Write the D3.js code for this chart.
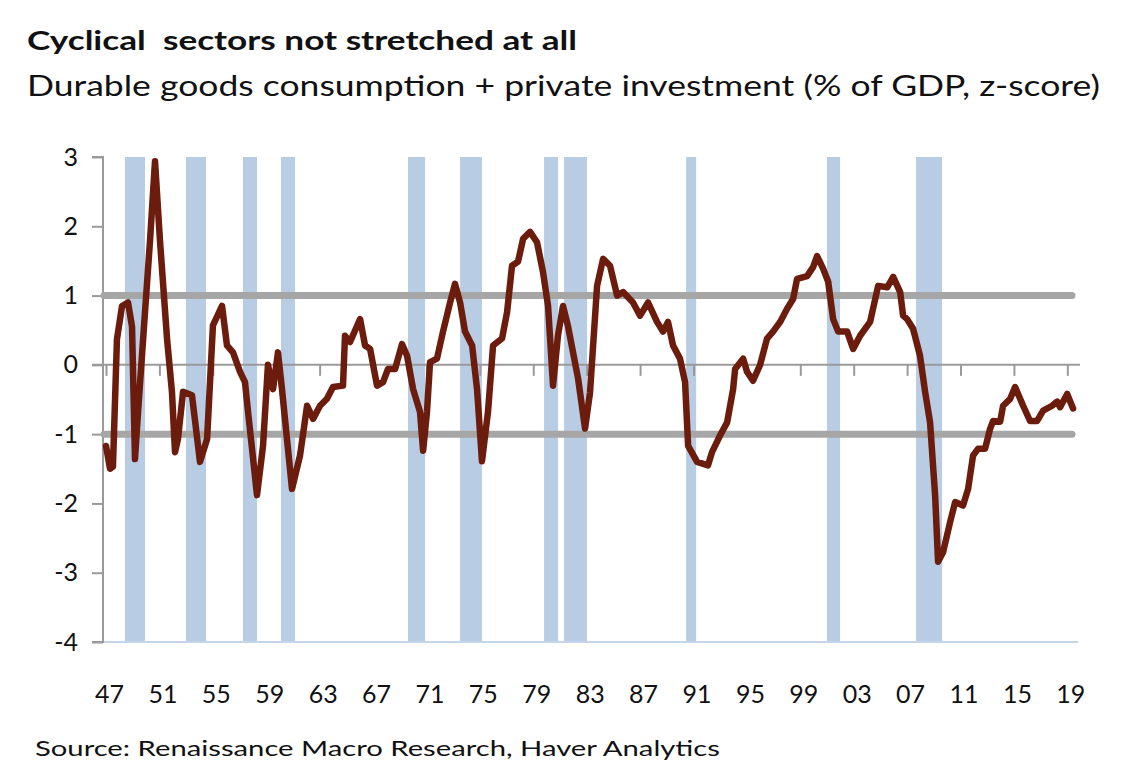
<!DOCTYPE html>
<html><head><meta charset="utf-8">
<script src="https://cdn.jsdelivr.net/npm/d3@7"></script>
<style>body{margin:0;background:#fff}svg{display:block}</style>
</head><body>
<svg id="c" width="1141" height="783"></svg>
<script>
// ---- data ----
const years = [1947.00,1947.30,1947.52,1947.82,1948.20,1948.65,1948.95,1949.17,1949.40,1949.92,1950.30,1950.67,1951.04,1951.57,1951.94,1952.17,1952.39,1952.77,1953.44,1954.04,1954.57,1955.01,1955.69,1956.06,1956.51,1957.04,1957.41,1957.64,1958.31,1958.76,1959.13,1959.51,1959.88,1960.18,1960.93,1961.53,1962.06,1962.51,1963.03,1963.55,1964.00,1964.75,1964.90,1965.28,1965.80,1966.03,1966.40,1966.78,1967.30,1967.75,1968.12,1968.65,1969.17,1969.55,1970.00,1970.52,1970.75,1971.04,1971.27,1971.79,1972.24,1972.77,1973.14,1973.52,1973.89,1974.42,1974.79,1975.16,1975.61,1975.99,1976.66,1977.04,1977.41,1977.86,1978.24,1978.76,1979.28,1979.73,1980.11,1980.48,1980.85,1981.23,1981.60,1981.98,1982.36,1982.88,1983.25,1983.78,1984.23,1984.75,1985.28,1985.73,1986.47,1987.00,1987.60,1988.27,1988.72,1989.09,1989.47,1989.99,1990.37,1990.60,1991.27,1992.09,1992.39,1992.99,1993.52,1993.97,1994.12,1994.72,1995.01,1995.46,1995.99,1996.51,1996.96,1997.49,1998.01,1998.46,1998.76,1999.51,1999.96,2000.26,2000.71,2001.09,2001.46,2001.84,2002.51,2002.96,2003.48,2004.23,2004.83,2005.51,2005.96,2006.48,2006.70,2007.00,2007.45,2007.97,2008.35,2008.72,2009.10,2009.32,2009.70,2010.22,2010.60,2011.19,2011.57,2011.94,2012.32,2012.84,2013.22,2013.44,2013.97,2014.19,2014.72,2015.09,2015.69,2016.21,2016.74,2017.19,2017.86,2018.24,2018.46,2018.99,2019.43];
const values = [-1.17,-1.50,-1.47,0.37,0.85,0.90,0.55,-1.36,-0.68,0.76,1.80,2.94,1.80,0.38,-0.39,-1.26,-1.07,-0.39,-0.44,-1.40,-1.07,0.57,0.85,0.28,0.18,-0.10,-0.25,-0.68,-1.88,-1.17,0.00,-0.35,0.18,-0.35,-1.79,-1.31,-0.59,-0.78,-0.59,-0.49,-0.32,-0.30,0.42,0.33,0.56,0.66,0.28,0.23,-0.30,-0.25,-0.06,-0.06,0.30,0.13,-0.35,-0.68,-1.24,-0.68,0.04,0.09,0.48,0.90,1.17,0.90,0.48,0.28,-0.35,-1.39,-0.68,0.28,0.38,0.76,1.43,1.49,1.82,1.92,1.77,1.34,0.85,-0.30,0.42,0.85,0.56,0.18,-0.20,-0.92,-0.40,1.14,1.53,1.43,1.00,1.05,0.90,0.71,0.90,0.62,0.48,0.62,0.28,0.09,-0.25,-1.17,-1.40,-1.45,-1.26,-1.02,-0.83,-0.35,-0.06,0.09,-0.10,-0.23,0.00,0.38,0.48,0.62,0.81,0.95,1.24,1.28,1.41,1.57,1.39,1.20,0.66,0.48,0.48,0.23,0.42,0.62,1.14,1.12,1.27,1.05,0.71,0.66,0.52,0.13,-0.39,-0.83,-1.89,-2.84,-2.70,-2.27,-1.98,-2.03,-1.79,-1.31,-1.21,-1.21,-0.92,-0.81,-0.82,-0.59,-0.49,-0.32,-0.59,-0.81,-0.81,-0.66,-0.59,-0.53,-0.61,-0.42,-0.63];
const recStart = [1948.42,1952.99,1957.26,1960.11,1969.62,1973.52,1979.81,1981.31,1990.45,2001.00,2007.67];
const recEnd   = [1949.92,1954.49,1958.31,1961.16,1970.90,1975.16,1980.86,1983.03,1991.20,2001.98,2009.62];
const xTickYears = d3.range(1947, 2020, 4);
const xTickLabels = xTickYears.map(y => String(y % 100).padStart(2, "0"));
const yTicks = [3,2,1,0,-1,-2,-3,-4];
const bandLines = [1,-1];
const title = "Cyclical  sectors not stretched at all";
const subtitle = "Durable goods consumption + private investment (% of GDP, z-score)";
const source = "Source: Renaissance Macro Research, Haver Analytics";

// ---- drawing ----
const svg = d3.select("#c");
const x = d3.scaleLinear().domain([1946.775, 2019.8]).range([103, 1078]);
const y = d3.scaleLinear().domain([-4, 3]).range([642, 157]);
const font = "Lato, 'Open Sans', sans-serif";

svg.append("text").attr("x", 27).attr("y", 50).attr("font-family", font).attr("font-weight", 700)
  .attr("font-size", 27).attr("textLength", 550).attr("lengthAdjust", "spacingAndGlyphs").attr("fill", "#111")
  .style("white-space", "pre").text(title);
svg.append("text").attr("x", 27).attr("y", 96).attr("font-family", font)
  .attr("font-size", 29).attr("textLength", 1073).attr("lengthAdjust", "spacingAndGlyphs").attr("fill", "#111").text(subtitle);
svg.append("text").attr("x", 35).attr("y", 756).attr("font-family", font)
  .attr("font-size", 21).attr("textLength", 685).attr("lengthAdjust", "spacingAndGlyphs").attr("fill", "#111").text(source);

// recession bars
svg.append("g").selectAll("rect").data(recStart).join("rect")
  .attr("x", (d) => x(d)).attr("width", (d, i) => x(recEnd[i]) - x(d))
  .attr("y", y(3)).attr("height", y(-4) - y(3)).attr("fill", "#b8cce4");

// bottom light line
svg.append("line").attr("x1", 103).attr("x2", 1078).attr("y1", y(-4)).attr("y2", y(-4))
  .attr("stroke", "#c6d6ea").attr("stroke-width", 2);

// y axis
const yAxis = d3.axisLeft(y).tickValues(yTicks).tickSize(11).tickPadding(14).tickFormat((d) => String(d));
const ga = svg.append("g").attr("transform", "translate(103,0)").call(yAxis);
ga.select(".domain").attr("stroke", "#9a9a9a").attr("stroke-width", 2).attr("d", `M-11,${y(3)}H0V${y(-4)}H-11`);
ga.selectAll(".tick line").attr("stroke", "#9a9a9a").attr("stroke-width", 2);
ga.selectAll(".tick text").attr("font-family", font).attr("font-size", 25).attr("fill", "#111").attr("x", -25);

// zero axis with ticks
const xAxis = d3.axisBottom(x).tickValues(xTickYears).tickSize(11).tickPadding(20)
  .tickFormat((d, i) => xTickLabels[i]);
const gx = svg.append("g").attr("transform", `translate(0,${y(0)})`).call(xAxis);
gx.select(".domain").attr("stroke", "#9a9a9a").attr("stroke-width", 2).attr("d", "M92,0H1080");
gx.selectAll(".tick line").attr("stroke", "#9a9a9a").attr("stroke-width", 2);
gx.selectAll(".tick text").attr("font-family", font).attr("font-size", 25).attr("fill", "#111")
  .attr("y", 0).attr("dy", 0).attr("transform", `translate(3,${703 - y(0)})`);

// +/-1 lines
svg.append("g").selectAll("line").data(bandLines).join("line")
  .attr("x1", 104).attr("x2", 1072).attr("y1", (d) => y(d)).attr("y2", (d) => y(d))
  .attr("stroke", "#a6a6a6").attr("stroke-width", 7).attr("stroke-linecap", "round");

// series line
const line = d3.line().x((d) => x(d[0])).y((d) => y(d[1]));
svg.append("path").datum(years.map((yr, i) => [yr, values[i]]))
  .attr("d", line).attr("fill", "none").attr("stroke", "#6b1c0d").attr("stroke-width", 6.5)
  .attr("stroke-linejoin", "round").attr("stroke-linecap", "round");
</script>
</body></html>
